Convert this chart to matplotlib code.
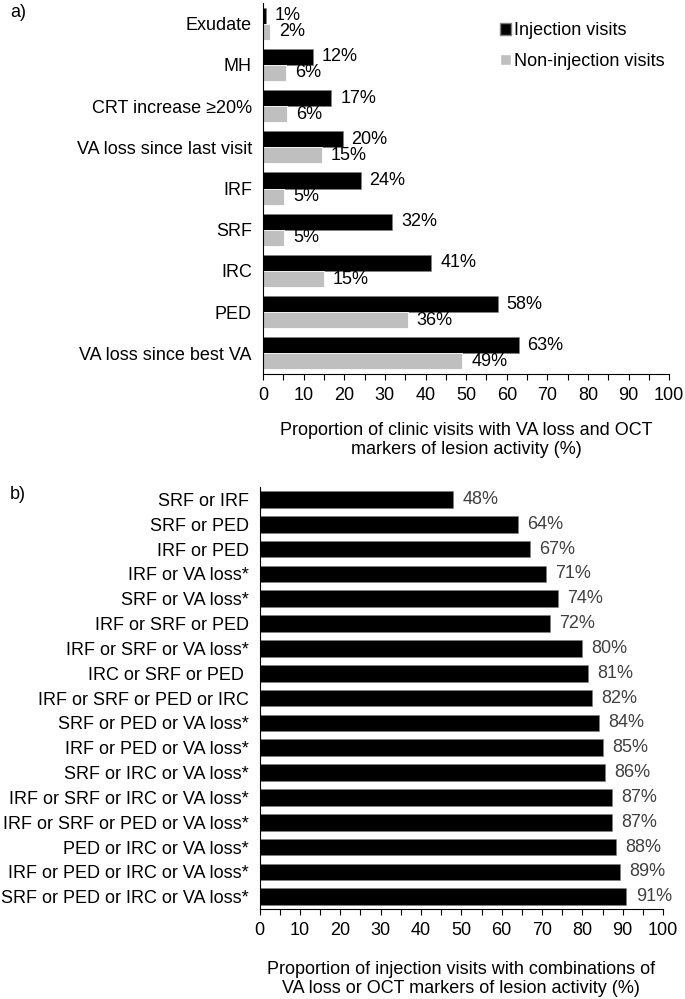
import matplotlib
matplotlib.use("Agg")
import matplotlib.pyplot as plt
import numpy as np
from matplotlib.patches import Patch
from matplotlib.ticker import MultipleLocator

plt.rcParams["font.family"] = ["Liberation Sans", "DejaVu Sans"]

# panel a data
cats_a = ["Exudate", "MH", "CRT increase \u226520%", "VA loss since last visit", "IRF",
          "SRF", "IRC", "PED", "VA loss since best VA"]
inj = [0.7, 12.3, 16.8, 19.6, 24.0, 31.8, 41.4, 57.8, 62.9]
inj_lbl = ["1%", "12%", "17%", "20%", "24%", "32%", "41%", "58%", "63%"]
non_inj = [1.8, 5.6, 6.0, 14.5, 5.2, 5.2, 15.0, 35.6, 49.1]
non_lbl = ["2%", "6%", "6%", "15%", "5%", "5%", "15%", "36%", "49%"]

# panel b data
cats_b = ["SRF or IRF", "SRF or PED", "IRF or PED", "IRF or VA loss*", "SRF or VA loss*",
          "IRF or SRF or PED", "IRF or SRF or VA loss*", "IRC or SRF or PED ",
          "IRF or SRF or PED or IRC", "SRF or PED or VA loss*", "IRF or PED or VA loss*",
          "SRF or IRC or VA loss*", "IRF or SRF or IRC or VA loss*",
          "IRF or SRF or PED or VA loss*", "PED or IRC or VA loss*",
          "IRF or PED or IRC or VA loss*", "SRF or PED or IRC or VA loss*"]
comb = [48.0, 64.0, 67.0, 71.0, 74.0, 72.0, 80.0, 81.4, 82.3, 84.1, 85.2, 85.6,
        87.4, 87.4, 88.4, 89.4, 90.9]
comb_lbl = ["48%", "64%", "67%", "71%", "74%", "72%", "80%", "81%", "82%", "84%",
            "85%", "86%", "87%", "87%", "88%", "89%", "91%"]

FS = 13
GREY = "#bfbfbf"

fig = plt.figure(figsize=(6.85, 9.99), dpi=100, facecolor="white")


def style_axis(ax):
    for side in ["top", "right"]:
        ax.spines[side].set_visible(False)
    ax.spines["left"].set_color("black")
    ax.spines["bottom"].set_color("black")
    ax.set_xlim(0, 100)
    ax.xaxis.set_major_locator(MultipleLocator(10))
    ax.xaxis.set_minor_locator(MultipleLocator(5))
    ax.tick_params(axis="x", which="both", length=4, width=0.8, colors="black",
                   labelsize=FS, pad=5)
    ax.tick_params(axis="y", length=0, labelsize=FS, pad=8)


# ---- panel a
ax1 = fig.add_axes([0.384, 0.6256, 0.593, 0.3714])
y = np.arange(len(cats_a))
h = 0.39
ax1.barh(y - h / 2, inj, height=h, color="black", edgecolor="#7f7f7f", linewidth=0.4)
ax1.barh(y + h / 2, non_inj, height=h, color=GREY, edgecolor="white", linewidth=0.6)
for yi, v, t in zip(y, inj, inj_lbl):
    ax1.text(v + 2.2, yi - h / 2, t, va="center", ha="left", fontsize=FS, color="black")
for yi, v, t in zip(y, non_inj, non_lbl):
    ax1.text(v + 2.2, yi + h / 2, t, va="center", ha="left", fontsize=FS, color="black")
ax1.set_yticks(y)
ax1.set_yticklabels(cats_a)
ax1.set_ylim(len(cats_a) - 0.5, -0.5)
style_axis(ax1)
ax1.set_xlabel("Proportion of clinic visits with VA loss and OCT\nmarkers of lesion activity (%)",
               fontsize=FS, labelpad=13.5, linespacing=1.15)
ax1.legend(handles=[Patch(facecolor="black", edgecolor="#7f7f7f", label="Injection visits"),
                    Patch(facecolor=GREY, edgecolor="white", label="Non-injection visits")],
           loc="upper left", bbox_to_anchor=(0.719, 0.985), bbox_transform=fig.transFigure,
           frameon=False, fontsize=FS, handlelength=0.6, handleheight=0.6,
           handletextpad=0.2, labelspacing=0.75, borderaxespad=0)
fig.text(0.015, 0.987, "a)", fontsize=FS, va="center", ha="left")

# ---- panel b
ax2 = fig.add_axes([0.379, 0.090, 0.589, 0.4225])
yb = np.arange(len(cats_b))
ax2.barh(yb, comb, height=0.67, color="black", edgecolor="#7f7f7f", linewidth=0.4)
for yi, v, t in zip(yb, comb, comb_lbl):
    ax2.text(v + 2.3, yi, t, va="center", ha="left", fontsize=FS, color="#404040")
ax2.set_yticks(yb)
ax2.set_yticklabels(cats_b)
ax2.set_ylim(len(cats_b) - 0.5, -0.5)
style_axis(ax2)
ax2.set_xlabel("Proportion of injection visits with combinations of\nVA loss or OCT markers of lesion activity (%)",
               fontsize=FS, labelpad=16, linespacing=1.15)
fig.text(0.015, 0.505, "b)", fontsize=FS, va="center", ha="left")

fig.savefig("out.png", dpi=100, facecolor="white")
